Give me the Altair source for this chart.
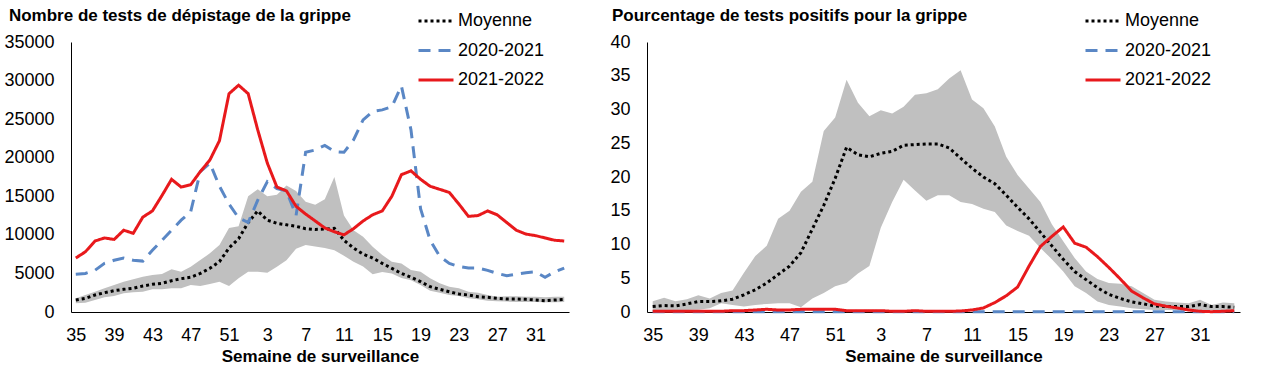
import altair as alt
import pandas as pd

# ---------------- data ----------------
weeks = [str(w) for w in list(range(35, 53)) + list(range(1, 35))]
tick_weeks = ["35", "39", "43", "47", "51", "3", "7", "11", "15", "19", "23", "27", "31"]
series_names = ["Moyenne", "2020-2021", "2021-2022"]
series_colors = ["#000000", "#5a87c5", "#e8191c"]
series_dashes = [[3, 3], [12, 8], [1, 0]]

# Left panel: number of tests
tests_mean = [1550, 1770, 2200, 2500, 2760, 2940, 3070, 3370, 3590, 3720,
              4060, 4320, 4500, 5000, 5660, 6520, 8300, 9500, 11600, 13100,
              11900, 11500, 11300, 11100, 10800, 10700, 10750, 10850, 9300, 8300,
              7500, 7000, 6300, 5660, 5000, 4500, 3930, 3280, 2940, 2630,
              2330, 2200, 1980, 1900, 1770, 1680, 1680, 1640, 1550, 1470,
              1550, 1640]
tests_2020_2021 = [4900, 5000, 5400, 6300, 6700, 7000, 6700, 6600, 8000, 9300,
                   10600, 11900, 13000, 18200, 19300, 16300, 14000, 12200, 11600, 14500,
                   16900, 16000, 15700, 12500, 20700, 21000, 21600, 20800, 20700, 22300,
                   24900, 26000, 26200, 26600, 29300, 23600, 13400, 9300, 7200, 6300,
                   5900, 5700, 5700, 5400, 5000, 4700, 4900, 5100, 5200, 4500,
                   5200, 5700]
tests_2021_2022 = [7000, 7800, 9200, 9600, 9400, 10600, 10200, 12300, 13100, 15100,
                   17200, 16200, 16500, 18200, 19700, 22200, 28300, 29400, 28300, 23600,
                   19300, 16200, 15700, 13700, 12700, 11800, 10900, 10400, 10000, 10800,
                   11800, 12600, 13100, 15000, 17800, 18300, 17200, 16300, 15900, 15500,
                   14000, 12400, 12500, 13100, 12600, 11600, 10600, 10100, 9900, 9600,
                   9300, 9200]
tests_low = [1120, 1210, 1550, 1900, 2070, 2420, 2550, 2630, 2940, 2940,
             3070, 3070, 3500, 3370, 3630, 3930, 3370, 4370, 5220, 5220,
             5090, 5870, 6700, 8200, 8700, 8500, 8300, 8000, 7300, 6500,
             5900, 4900, 5200, 5000, 4400, 4100, 3500, 2760, 2500, 2200,
             2070, 1770, 1640, 1470, 1400, 1350, 1300, 1300, 1300, 1250,
             1250, 1300]
tests_high = [1770, 2200, 2630, 3070, 3500, 3930, 4240, 4580, 4800, 4920,
              5530, 5220, 5870, 6740, 7600, 8700, 10900, 11100, 15000, 15900,
              15000, 15200, 16400, 15700, 14300, 13900, 14600, 17500, 12500, 10600,
              9760, 8460, 7390, 6520, 6300, 5440, 5220, 4370, 3720, 3280,
              3070, 2630, 2500, 2200, 1980, 2030, 2030, 1980, 1980, 1900,
              1980, 1980]

# Right panel: percentage of positive tests
pos_mean = [0.8, 0.95, 0.9, 1.2, 1.55, 1.55, 1.65, 1.9, 2.55, 3.3,
            4.3, 5.55, 6.8, 8.8, 12.3, 15.8, 19.8, 24.4, 23.3, 23.0,
            23.5, 23.8, 24.7, 24.8, 24.9, 24.9, 24.3, 22.8, 21.3, 20.0,
            19.0, 17.3, 15.5, 13.8, 11.8, 9.8, 7.8, 6.0, 4.8, 3.6,
            2.6, 2.0, 1.5, 1.2, 0.9, 0.8, 0.8, 0.8, 1.1, 0.8,
            0.8, 0.7]
pos_2020_2021 = [0.05] * 52
pos_2021_2022 = [0.1, 0.1, 0.1, 0.1, 0.1, 0.1, 0.1, 0.2, 0.2, 0.3,
                 0.4, 0.3, 0.3, 0.4, 0.4, 0.4, 0.4, 0.2, 0.2, 0.2,
                 0.2, 0.1, 0.1, 0.2, 0.1, 0.1, 0.1, 0.15, 0.3, 0.6,
                 1.4, 2.4, 3.7, 6.8, 9.7, 11.2, 12.6, 10.2, 9.6, 8.2,
                 6.6, 4.9, 3.1, 2.1, 1.2, 0.85, 0.6, 0.3, 0.1, 0.05,
                 0.1, 0.2]
pos_low = [0.1, 0.3, 0.3, 0.3, 0.35, 0.55, 1.3, 1.05, 0.8, 1.05,
           1.2, 1.3, 1.3, 0.7, 2.0, 2.8, 3.8, 4.3, 5.7, 6.8,
           12.5, 16.3, 19.6, 18.0, 16.5, 17.3, 17.3, 16.3, 16.0, 15.3,
           14.8, 12.8, 12.0, 11.3, 9.5, 7.8, 6.0, 3.8, 2.8, 1.55,
           1.05, 0.8, 0.55, 0.4, 0.3, 0.3, 0.3, 0.3, 0.3, 0.3,
           0.3, 0.3]
pos_high = [1.6, 2.1, 1.6, 1.9, 2.5, 2.0, 2.8, 3.2, 5.8, 8.3,
            9.8, 13.8, 15.0, 17.8, 19.3, 26.8, 28.8, 34.4, 31.0, 29.0,
            29.9, 29.4, 30.4, 32.2, 32.4, 33.0, 34.6, 35.8, 31.5, 30.2,
            27.5, 23.0, 20.3, 18.3, 16.3, 13.0, 10.5, 8.0, 6.0, 4.9,
            4.3, 4.2, 3.8, 2.8, 1.8, 1.55, 1.4, 1.3, 1.8, 1.05,
            1.4, 1.3]

FONT = "Liberation Sans"


def panel(title, mean, s1, s2, low, high, ymax, ystep, width, legend_x, legend_y, title_dx):
    band = pd.DataFrame({"semaine": weeks, "bas": low, "haut": high})
    long = pd.DataFrame({
        "semaine": weeks * 3,
        "serie": [n for n in series_names for _ in weeks],
        "valeur": list(mean) + list(s1) + list(s2),
    })
    x = alt.X(
        "semaine:O",
        sort=weeks,
        scale=alt.Scale(type="point", padding=0.5),
        axis=alt.Axis(values=tick_weeks, labelAngle=0, title="Semaine de surveillance",
                      ticks=False, grid=False, domainColor="black", domainWidth=1,
                      labelFontSize=18, labelPadding=14, labelColor="black",
                      titleFontSize=17, titleFontWeight="bold", titlePadding=4,
                      titleColor="black", labelFont=FONT, titleFont=FONT),
    )
    yscale = alt.Scale(domain=[0, ymax], nice=False, zero=True)
    yaxis = alt.Axis(values=list(range(0, ymax + 1, ystep)), format="d", title=None,
                     ticks=False, grid=False, domainColor="black", domainWidth=1,
                     labelFontSize=18, labelPadding=17, labelColor="black", labelFont=FONT)
    leg = alt.Legend(title=None, orient="none", legendX=legend_x, legendY=legend_y,
                     labelFontSize=18, labelFont=FONT, labelColor="black",
                     symbolType="stroke", symbolStrokeWidth=3, symbolSize=1225,
                     rowPadding=1.5, labelOffset=3, padding=0)
    color = alt.Color("serie:N", scale=alt.Scale(domain=series_names, range=series_colors), legend=leg)
    dash = alt.StrokeDash("serie:N", scale=alt.Scale(domain=series_names, range=series_dashes), legend=leg)

    area = alt.Chart(band).mark_area(color="#c0c0c0", opacity=1).encode(
        x=x, y=alt.Y("bas:Q", scale=yscale, axis=yaxis), y2="haut:Q"
    )
    layers = [area]
    for n in series_names:
        layers.append(
            alt.Chart(long).transform_filter(alt.datum.serie == n)
            .mark_line(strokeWidth=3)
            .encode(x=x, y=alt.Y("valeur:Q", scale=yscale, axis=yaxis),
                    color=color, strokeDash=dash)
        )
    return alt.layer(*layers).properties(
        width=width, height=270,
        title=alt.TitleParams(title, anchor="start", frame="bounds", fontSize=17,
                              fontWeight="bold", font=FONT, color="black", dx=title_dx, offset=-23),
    )


left = panel("Nombre de tests de dépistage de la grippe", tests_mean, tests_2020_2021,
             tests_2021_2022, tests_low, tests_high, 35000, 5000, 498, 346, -40, 5)
right = panel("Pourcentage de tests positifs pour la grippe", pos_mean, pos_2020_2021,
              pos_2021_2022, pos_low, pos_high, 40, 5, 593, 437, -40, 2)

chart = (
    alt.hconcat(left, right, spacing=38)
    .resolve_scale(x="independent", y="independent", color="independent", strokeDash="independent")
    .resolve_legend(color="independent", strokeDash="independent")
    .properties(padding={"left": 3, "top": 2, "right": 5, "bottom": 5}, background="white")
    .configure_view(stroke=None)
)

chart.save("out.html", embed_options={"renderer": "svg", "actions": False})
